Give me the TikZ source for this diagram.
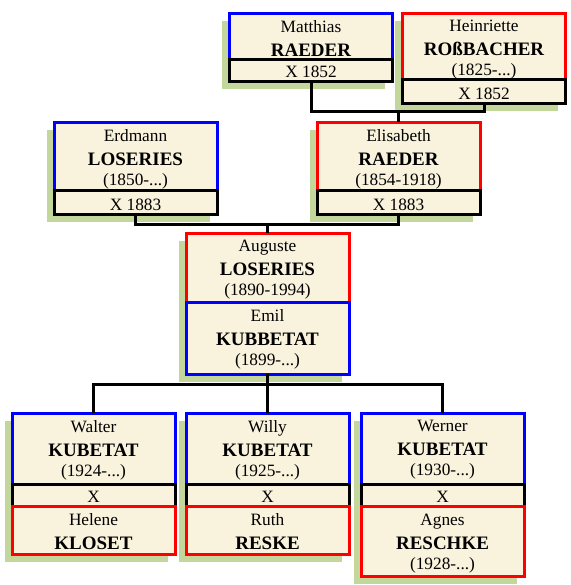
\documentclass[tikz,border=0pt]{standalone}
\usepackage{fontspec}
\setmainfont{Liberation Serif}
\usetikzlibrary{backgrounds}

\definecolor{paper}{HTML}{F9F2DC}
\definecolor{shadowgreen}{HTML}{C3D69B}
\newcommand\famname[1]{{\bfseries\fontsize{19}{20}\selectfont #1}}

\tikzset{
  box/.style={rectangle, draw, fill=paper, line width=3pt, minimum width=163pt,
    inner sep=0pt, outer sep=0pt, anchor=north},
  man/.style={box, draw=blue},
  woman/.style={box, draw=red},
  wed/.style={box, draw=black, minimum height=23pt, text height=15pt, text depth=0pt,
    font=\fontsize{17.3}{20}\selectfont},
  txt/.style={align=center, inner sep=0pt, anchor=north, font=\fontsize{17.3}{20}\selectfont},
  link/.style={draw=black, line width=3pt},
}

\begin{document}
\begin{tikzpicture}[x=1pt, y=-1pt]
  \useasboundingbox (0,0) rectangle (570,585);

  % grandparents
  \node[man, minimum height=46pt] (mat) at (311,13.3) {};
  \node[txt] (matT) at ([yshift=-7pt]mat.north) {Matthias\\[4pt]\famname{RAEDER}};
  \node[wed, minimum height=22.4pt] (matX) at (mat.south) {X 1852};

  \node[woman, minimum height=66.7pt] (hei) at (484,13.3) {};
  \node[txt] (heiT) at ([yshift=-7pt]hei.north) {Heinriette\\[4pt]\famname{ROßBACHER}\\(1825-...)};
  \node[wed, minimum height=24pt] (heiX) at (hei.south) {X 1852};

  % parents
  \node[man, minimum height=68.7pt] (erd) at (135.5,122.3) {};
  \node[txt] (erdT) at ([yshift=-7pt]erd.north) {Erdmann\\[4pt]\famname{LOSERIES}\\(1850-...)};
  \node[wed, minimum height=23.3pt] (erdX) at (erd.south) {X 1883};

  \node[woman, minimum height=68.7pt] (eli) at (398.5,122.3) {};
  \node[txt] (eliT) at ([yshift=-7pt]eli.north) {Elisabeth\\[4pt]\famname{RAEDER}\\(1854-1918)};
  \node[wed, minimum height=23.3pt] (eliX) at (eli.south) {X 1883};

  % the couple
  \node[woman, minimum height=69.4pt] (aug) at (267.5,233.3) {};
  \node[txt] (augT) at ([yshift=-7pt]aug.north) {Auguste\\[4pt]\famname{LOSERIES}\\(1890-1994)};
  \node[man, minimum height=71.3pt] (emi) at (aug.south) {};
  \node[txt] (emiT) at ([yshift=-7pt]emi.north) {Emil\\[4pt]\famname{KUBBETAT}\\(1899-...)};

  % children
  \node[man, minimum height=70.7pt] (wal) at (93.5,413.3) {};
  \node[txt] (walT) at ([yshift=-7pt]wal.north) {Walter\\[4pt]\famname{KUBETAT}\\(1924-...)};
  \node[wed, minimum height=22.7pt] (walX) at (wal.south) {X};
  \node[woman, minimum height=47.6pt] (hel) at (walX.south) {};
  \node[txt] (helT) at ([yshift=-7pt]hel.north) {Helene\\[4pt]\famname{KLOSET}};

  \node[man, minimum height=70.7pt] (wil) at (267.5,413.3) {};
  \node[txt] (wilT) at ([yshift=-7pt]wil.north) {Willy\\[4pt]\famname{KUBETAT}\\(1925-...)};
  \node[wed, minimum height=22.7pt] (wilX) at (wil.south) {X};
  \node[woman, minimum height=47.6pt] (rut) at (wilX.south) {};
  \node[txt] (rutT) at ([yshift=-7pt]rut.north) {Ruth\\[4pt]\famname{RESKE}};

  \node[man, minimum height=70.7pt] (wer) at (442.5,413.3) {};
  \node[txt] (werT) at ([yshift=-7pt]wer.north) {Werner\\[4pt]\famname{KUBETAT}\\(1930-...)};
  \node[wed, minimum height=22.7pt] (werX) at (wer.south) {X};
  \node[woman, minimum height=69.7pt] (agn) at (werX.south) {};
  \node[txt] (agnT) at ([yshift=-7pt]agn.north) {Agnes\\[4pt]\famname{RESCHKE}\\(1928-...)};

  % shadows behind each family box
  \begin{scope}[on background layer]
    \foreach \a/\b in {mat/matX, hei/heiX, erd/erdX, eli/eliX, aug/emi, wal/hel, wil/rut, wer/agn}
      \fill[shadowgreen] ([shift={(-7.5,7.5)}]\a.north west) rectangle ([shift={(-7.5,7.5)}]\b.south east);
  \end{scope}

  % connectors
  \coordinate (j1) at (398,112);
  \draw[link] (matX.south) |- (j1) -| (heiX.south);
  \draw[link] (j1) -- (j1 |- eli.north);

  \coordinate (j2) at (267.5,224);
  \draw[link] (erdX.south) |- (j2) -| (eliX.south);
  \draw[link] (j2) -- (j2 |- aug.north);

  \coordinate (j3) at (267.5,384.5);
  \draw[link] (emi.south) -- (wil.north);
  \draw[link] (wal.north) |- (j3) -| (wer.north);
\end{tikzpicture}
\end{document}
